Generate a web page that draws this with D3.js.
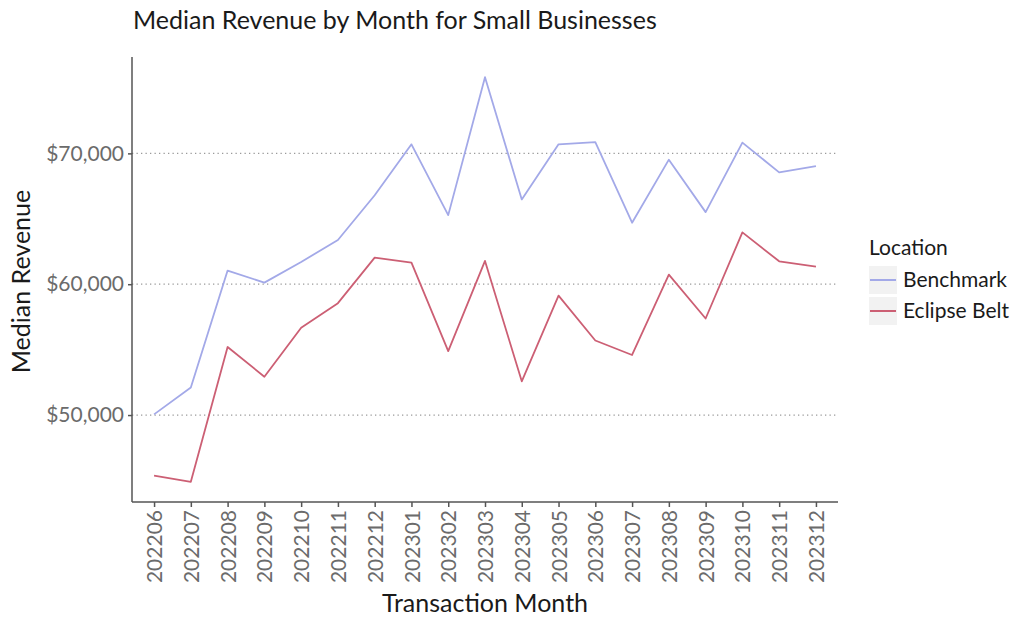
<!DOCTYPE html>
<html><head><meta charset="utf-8">
<script src="https://cdn.jsdelivr.net/npm/d3@7"></script>
<style>
body{margin:0;background:#fff;}
text{font-family:Lato,"Noto Sans",sans-serif;}
</style></head>
<body><svg id="c" width="1024" height="640"></svg>
<script>
const months = ["202206","202207","202208","202209","202210","202211","202212","202301","202302","202303","202304","202305","202306","202307","202308","202309","202310","202311","202312"];
const benchmark = [50050,52100,61040,60120,61700,63380,66800,70690,65280,75820,66480,70690,70860,64700,69520,65510,70820,68550,69030];
const eclipseBelt = [45370,44900,55200,52930,56670,58550,62030,61650,54890,61780,52580,59130,55700,54590,60730,57380,63960,61750,61340];
const yTicks = [50000,60000,70000];
const seriesNames = ["Benchmark","Eclipse Belt"];
const colors = ["#a3a9e8","#cc5f74"];

const svg = d3.select("#c");
const L=132,R=838,T=57,B=502;
const x = d3.scalePoint().domain(months).range([L,R]).padding(0.6);
const all = benchmark.concat(eclipseBelt);
const mn=d3.min(all), mx=d3.max(all), ex=(mx-mn)*0.05;
const y = d3.scaleLinear().domain([mn-ex,mx+ex]).range([B,T]);

// grid
svg.append("g").selectAll("line").data(yTicks).join("line")
  .attr("x1",L).attr("x2",R).attr("y1",d=>y(d)).attr("y2",d=>y(d))
  .attr("stroke","#9a9a9a").attr("stroke-width",1.3).attr("stroke-dasharray","1.3,3.2");

// lines
const line = d3.line().x((d,i)=>x(months[i])).y(d=>y(d));
[benchmark,eclipseBelt].forEach((s,k)=>{
  svg.append("path").datum(s).attr("d",line).attr("fill","none")
    .attr("stroke",colors[k]).attr("stroke-width",1.8).attr("stroke-linejoin","round");
});

// axes
const yAxis = svg.append("g").attr("transform",`translate(${L},0)`)
  .call(d3.axisLeft(y).tickValues(yTicks).tickSize(4).tickPadding(4).tickFormat(d=>"$"+d3.format(",")(d)));
yAxis.select(".domain").attr("d",`M0,${T}V${B}`).attr("stroke","#555").attr("stroke-width",1.5);
yAxis.selectAll(".tick line").attr("stroke","#555").attr("stroke-width",1.5);
yAxis.selectAll(".tick text").attr("fill","#6b6b6b").style("font-size","21px").style("font-family","Lato,sans-serif");

const xAxis = svg.append("g").attr("transform",`translate(0,${B})`)
  .call(d3.axisBottom(x).tickSize(5).tickPadding(6));
xAxis.select(".domain").attr("d",`M${L},0H${R}`).attr("stroke","#555").attr("stroke-width",1.5);
xAxis.selectAll(".tick line").attr("stroke","#555").attr("stroke-width",1.5);
xAxis.selectAll(".tick text").attr("fill","#6b6b6b").style("font-size","21px").style("font-family","Lato,sans-serif")
  .attr("transform","rotate(-90)").attr("text-anchor","end").attr("x",-8).attr("y",0).attr("dy","0.36em");

// titles
svg.append("text").attr("x",133).attr("y",29).text("Median Revenue by Month for Small Businesses")
  .style("font-size","25px").attr("fill","#1a1a1a");
svg.append("text").attr("transform",`translate(30,${(T+B)/2+2}) rotate(-90)`).attr("text-anchor","middle")
  .text("Median Revenue").style("font-size","25px").attr("fill","#1a1a1a");
svg.append("text").attr("x",(L+R)/2).attr("y",612).attr("text-anchor","middle")
  .text("Transaction Month").style("font-size","25px").attr("fill","#1a1a1a");

// legend
const lg = svg.append("g");
lg.append("text").attr("x",869).attr("y",255).text("Location").style("font-size","21px").attr("fill","#1a1a1a");
seriesNames.forEach((n,k)=>{
  const yy = 266 + k*31;
  lg.append("rect").attr("x",869).attr("y",yy).attr("width",28).attr("height",28).attr("fill","#f2f2f2");
  lg.append("line").attr("x1",870).attr("x2",896).attr("y1",yy+14).attr("y2",yy+14).attr("stroke",colors[k]).attr("stroke-width",2);
  lg.append("text").attr("x",903).attr("y",yy+14).attr("dy","0.35em").text(n).style("font-size","21px").attr("fill","#1a1a1a");
});
</script></body></html>
